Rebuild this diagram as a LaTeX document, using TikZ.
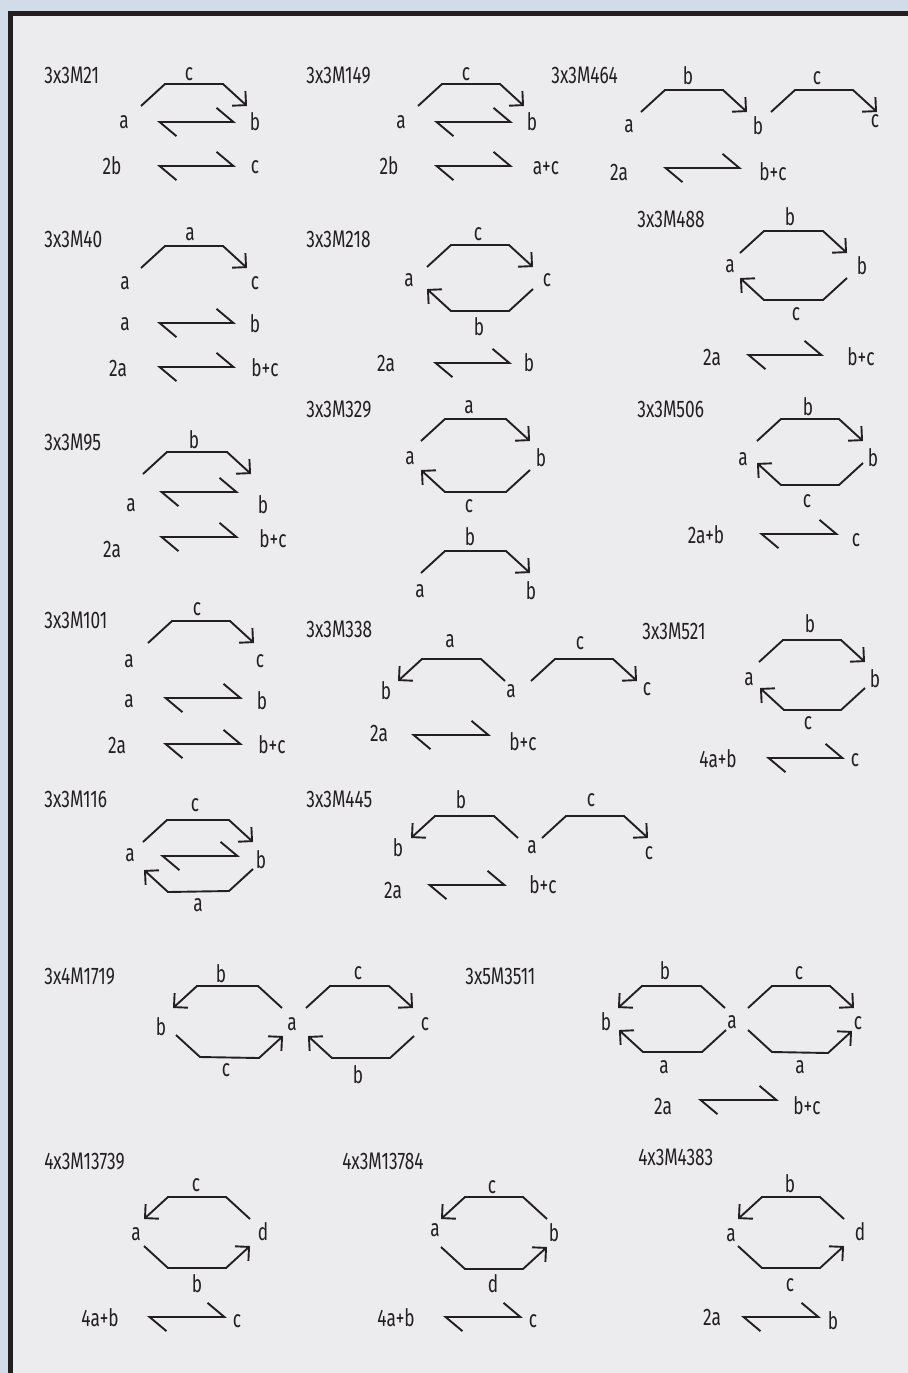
\documentclass[tikz,border=0pt]{standalone}
\usepackage{fontspec}
\setmainfont{Fira Sans}[FakeStretch=0.72]
\usepackage{tikz}
\usetikzlibrary{arrows.meta,
calc}
\definecolor{outerbg}{HTML}{D1DCE8}
\definecolor{panelbg}{HTML}{ECECEE}
\definecolor{framec}{HTML}{231F20}
\definecolor{ink}{HTML}{231F20}

\tikzset{
	hop/.style 2 args={to path={-- ++(#1,#2) -- ($(\tikztotarget)+(-1*#1,#2)$) -- (\tikztotarget)}},
	over/.style={hop={24}{-22}},
	overl/.style={hop={-24}{-22}},
	under/.style={hop={24}{22}},
	underl/.style={hop={-24}{22}}
}

\begin{document}
\begin{tikzpicture}[
	x=0.5pt, y=-0.5pt,
	font=\fontsize{12}{14}\selectfont,
	title/.style={anchor=mid west, inner sep=0pt, text=ink},
	lbl/.style={anchor=mid, inner sep=0pt, text=ink},
	conn/.style={draw=ink, line width=0.95pt, -{Straight Barb[angle=90:7pt]}},
	eqm/.style={draw=ink, line width=0.95pt,
		{Straight Barb[harpoon, angle=80:11pt]}-{Straight Barb[harpoon, angle=80:11pt]}}
	]
	\useasboundingbox (0,0) rectangle (908,1373);
	\fill[outerbg] (0,0) rectangle (908,1373);
	\fill[panelbg] (8,11) rectangle (908,1373);
	\fill[framec] (8,11) rectangle (13,1373);
	\fill[framec] (8,11) rectangle (908,16);
	
	% 3x3M21
	\node[title] (t21) at (44,78) {3x3M21};
	\node[lbl] (c21) at (189,75) {c};
	\node[lbl] (a21) at (124,123) {a};
	\node[lbl] (b21) at (255,125) {b};
	\node[lbl] (r21) at (112,169) {2b};
	\node[lbl] (p21) at (255,168) {c};
	\coordinate (s21) at (141,106); \coordinate (e21) at (247,106);
	\coordinate (l21) at (157,122); \coordinate (m21) at (236,122);
	\coordinate (n21) at (157,166); \coordinate (o21) at (236,166);
	\draw[conn, over] (s21) to (e21);
	\draw[eqm] (l21) -- (m21);
	\draw[eqm] (n21) -- (o21);
	
	% 3x3M149
	\node[title] (t149) at (306,78) {3x3M149};
	\node[lbl] (c149) at (466,75) {c};
	\node[lbl] (a149) at (401,123) {a};
	\node[lbl] (b149) at (532,125) {b};
	\node[lbl] (r149) at (389,169) {2b};
	\node[lbl] (p149) at (546,169) {a+c};
	\coordinate (s149) at (418,106); \coordinate (e149) at (524,106);
	\coordinate (l149) at (434,122); \coordinate (m149) at (513,122);
	\coordinate (n149) at (434,166); \coordinate (o149) at (513,166);
	\draw[conn, over] (s149) to (e149);
	\draw[eqm] (l149) -- (m149);
	\draw[eqm] (n149) -- (o149);
	
	% 3x3M464
	\node[title] (t464) at (551,78) {3x3M464};
	\node[lbl] (b464) at (688,79) {b};
	\node[lbl] (a464) at (629,127) {a};
	\node[lbl] (bb464) at (758,129) {b};
	\node[lbl] (c464) at (817,79) {c};
	\node[lbl] (cc464) at (875,122) {c};
	\node[lbl] (r464) at (619,175) {2a};
	\node[lbl] (p464) at (773,175) {b+c};
	\coordinate (s464) at (641,112); \coordinate (e464) at (747,112);
	\coordinate (u464) at (771,112); \coordinate (v464) at (877,112);
	\coordinate (l464) at (663,168); \coordinate (m464) at (742,168);
	\draw[conn, over] (s464) to (e464);
	\draw[conn, over] (u464) to (v464);
	\draw[eqm] (l464) -- (m464);
	
	% 3x3M40
	\node[title] (t40) at (44,242) {3x3M40};
	\node[lbl] (a40) at (190,235) {a};
	\node[lbl] (aa40) at (125,284) {a};
	\node[lbl] (c40) at (255,284) {c};
	\node[lbl] (r40) at (125,325) {a};
	\node[lbl] (p40) at (255,327) {b};
	\node[lbl] (rr40) at (118,371) {2a};
	\node[lbl] (pp40) at (265,371) {b+c};
	\coordinate (s40) at (141,268); \coordinate (e40) at (247,268);
	\coordinate (l40) at (157,323); \coordinate (m40) at (236,323);
	\coordinate (n40) at (157,367); \coordinate (o40) at (236,367);
	\draw[conn, over] (s40) to (e40);
	\draw[eqm] (l40) -- (m40);
	\draw[eqm] (n40) -- (o40);
	
	% 3x3M218
	\node[title] (t218) at (306,242) {3x3M218};
	\node[lbl] (c218) at (478,235) {c};
	\node[lbl] (a218) at (409,281) {a};
	\node[lbl] (cc218) at (547,281) {c};
	\node[lbl] (b218) at (479,330) {b};
	\node[lbl] (r218) at (386,366) {2a};
	\node[lbl] (p218) at (529,366) {b};
	\coordinate (s218) at (427,267); \coordinate (e218) at (533,267);
	\coordinate (u218) at (533,289); \coordinate (v218) at (427,289);
	\coordinate (l218) at (433,363); \coordinate (m218) at (512,363);
	\draw[conn, over] (s218) to (e218);
	\draw[conn, underl] (u218) to (v218);
	\draw[eqm] (l218) -- (m218);
	
	% 3x3M488
	\node[title] (t488) at (637,222) {3x3M488};
	\node[lbl] (b488) at (790,220) {b};
	\node[lbl] (a488) at (730,267) {a};
	\node[lbl] (bb488) at (862,269) {b};
	\node[lbl] (c488) at (796,315) {c};
	\node[lbl] (r488) at (712,360) {2a};
	\node[lbl] (p488) at (861,360) {b+c};
	\coordinate (s488) at (740,253); \coordinate (e488) at (847,253);
	\coordinate (u488) at (847,278); \coordinate (v488) at (740,278);
	\coordinate (l488) at (746,355); \coordinate (m488) at (824,355);
	\draw[conn, over] (s488) to (e488);
	\draw[conn, underl] (u488) to (v488);
	\draw[eqm] (l488) -- (m488);
	
	% 3x3M95
	\node[title] (t95) at (44,445) {3x3M95};
	\node[lbl] (b95) at (194,443) {b};
	\node[lbl] (a95) at (131,506) {a};
	\node[lbl] (bb95) at (263,508) {b};
	\node[lbl] (r95) at (112,552) {2a};
	\node[lbl] (p95) at (273,542) {b+c};
	\coordinate (s95) at (143,474); \coordinate (e95) at (251,474);
	\coordinate (l95) at (159,492); \coordinate (m95) at (239,492);
	\coordinate (n95) at (159,537); \coordinate (o95) at (239,537);
	\draw[conn, over] (s95) to (e95);
	\draw[eqm] (l95) -- (m95);
	\draw[eqm] (n95) -- (o95);
	
	% 3x3M329
	\node[title] (t329) at (306,412) {3x3M329};
	\node[lbl] (a329) at (469,408) {a};
	\node[lbl] (aa329) at (410,459) {a};
	\node[lbl] (b329) at (541,461) {b};
	\node[lbl] (c329) at (469,507) {c};
	\node[lbl] (bb329) at (470,540) {b};
	\node[lbl] (r329) at (420,592) {a};
	\node[lbl] (p329) at (531,594) {b};
	\coordinate (s329) at (421,441); \coordinate (e329) at (530,441);
	\coordinate (u329) at (530,470); \coordinate (v329) at (421,470);
	\coordinate (w329) at (421,573); \coordinate (z329) at (530,573);
	\draw[conn, over] (s329) to (e329);
	\draw[conn, underl] (u329) to (v329);
	\draw[conn, over] (w329) to (z329);
	
	% 3x3M506
	\node[title] (t506) at (637,412) {3x3M506};
	\node[lbl] (b506) at (808,410) {b};
	\node[lbl] (a506) at (743,460) {a};
	\node[lbl] (bb506) at (873,461) {b};
	\node[lbl] (c506) at (807,502) {c};
	\node[lbl] (r506) at (706,538) {2a+b};
	\node[lbl] (p506) at (856,541) {c};
	\coordinate (s506) at (757,441); \coordinate (e506) at (863,441);
	\coordinate (u506) at (863,463); \coordinate (v506) at (757,463);
	\coordinate (l506) at (759,534); \coordinate (m506) at (839,534);
	\draw[conn, over] (s506) to (e506);
	\draw[conn, underl] (u506) to (v506);
	\draw[eqm] (l506) -- (m506);
	
	% 3x3M101
	\node[title] (t101) at (44,623) {3x3M101};
	\node[lbl] (c101) at (197,610) {c};
	\node[lbl] (a101) at (129,662) {a};
	\node[lbl] (cc101) at (260,662) {c};
	\node[lbl] (r101) at (129,702) {a};
	\node[lbl] (p101) at (262,704) {b};
	\node[lbl] (rr101) at (117,748) {2a};
	\node[lbl] (pp101) at (272,748) {b+c};
	\coordinate (s101) at (148,643); \coordinate (e101) at (254,643);
	\coordinate (l101) at (163,698); \coordinate (m101) at (243,698);
	\coordinate (n101) at (163,744); \coordinate (o101) at (243,744);
	\draw[conn, over] (s101) to (e101);
	\draw[eqm] (l101) -- (m101);
	\draw[eqm] (n101) -- (o101);
	
	% 3x3M338
	\node[title] (t338) at (306,632) {3x3M338};
	\node[lbl] (a338) at (450,642) {a};
	\node[lbl] (b338) at (386,694) {b};
	\node[lbl] (aa338) at (511,692) {a};
	\node[lbl] (c338) at (580,644) {c};
	\node[lbl] (cc338) at (647,690) {c};
	\node[lbl] (r338) at (379,736) {2a};
	\node[lbl] (p338) at (523,745) {b+c};
	\coordinate (s338) at (505,681); \coordinate (e338) at (398,681);
	\coordinate (u338) at (531,681); \coordinate (v338) at (637,681);
	\coordinate (l338) at (411,735); \coordinate (m338) at (491,735);
	\draw[conn, overl] (s338) to (e338);
	\draw[conn, over] (u338) to (v338);
	\draw[eqm] (l338) -- (m338);
	
	% 3x3M521
	\node[title] (t521) at (642,634) {3x3M521};
	\node[lbl] (b521) at (810,627) {b};
	\node[lbl] (a521) at (749,680) {a};
	\node[lbl] (bb521) at (875,682) {b};
	\node[lbl] (c521) at (808,724) {c};
	\node[lbl] (r521) at (718,762) {4a+b};
	\node[lbl] (p521) at (855,761) {c};
	\coordinate (s521) at (759,662); \coordinate (e521) at (865,662);
	\coordinate (u521) at (865,688); \coordinate (v521) at (760,688);
	\coordinate (l521) at (766,758); \coordinate (m521) at (845,758);
	\draw[conn, over] (s521) to (e521);
	\draw[conn, underl] (u521) to (v521);
	\draw[eqm] (l521) -- (m521);
	
	% 3x3M116
	\node[title] (t116) at (44,802) {3x3M116};
	\node[lbl] (c116) at (195,806) {c};
	\node[lbl] (a116) at (130,856) {a};
	\node[lbl] (b116) at (261,863) {b};
	\node[lbl] (aa116) at (198,906) {a};
	\coordinate (s116) at (143,842); \coordinate (e116) at (253,842);
	\coordinate (u116) at (253,869); \coordinate (v116) at (144,870);
	\coordinate (l116) at (160,856); \coordinate (m116) at (240,856);
	\draw[conn, over] (s116) to (e116);
	\draw[conn, underl] (u116) to (v116);
	\draw[eqm] (l116) -- (m116);
	
	% 3x3M445
	\node[title] (t445) at (306,802) {3x3M445};
	\node[lbl] (b445) at (461,803) {b};
	\node[lbl] (bb445) at (398,851) {b};
	\node[lbl] (a445) at (532,848) {a};
	\node[lbl] (c445) at (591,801) {c};
	\node[lbl] (cc445) at (649,854) {c};
	\node[lbl] (r445) at (393,893) {2a};
	\node[lbl] (p445) at (543,888) {b+c};
	\coordinate (s445) at (518,838); \coordinate (e445) at (411,838);
	\coordinate (u445) at (542,838); \coordinate (v445) at (648,838);
	\coordinate (l445) at (427,885); \coordinate (m445) at (507,885);
	\draw[conn, overl] (s445) to (e445);
	\draw[conn, over] (u445) to (v445);
	\draw[eqm] (l445) -- (m445);
	
	% 3x4M1719
	\node[title] (t1719) at (44,979) {3x4M1719};
	\node[lbl] (b1719) at (221,977) {b};
	\node[lbl] (bb1719) at (161,1030) {b};
	\node[lbl] (a1719) at (292,1025) {a};
	\node[lbl] (c1719) at (226,1071) {c};
	\node[lbl] (cc1719) at (358,974) {c};
	\node[lbl] (ccc1719) at (425,1025) {c};
	\node[lbl] (bbb1719) at (358,1078) {b};
	\coordinate (s1719) at (282,1008); \coordinate (e1719) at (173,1008);
	\coordinate (u1719) at (176,1035); \coordinate (v1719) at (283,1036);
	\coordinate (w1719) at (306,1008); \coordinate (z1719) at (413,1008);
	\coordinate (x1719) at (414,1036); \coordinate (y1719) at (308,1036);
	\draw[conn, overl] (s1719) to (e1719);
	\draw[conn, under] (u1719) to (v1719);
	\draw[conn, over] (w1719) to (z1719);
	\draw[conn, underl] (x1719) to (y1719);
	
	% 3x5M3511
	\node[title] (t3511) at (465,979) {3x5M3511};
	\node[lbl] (b3511) at (665,974) {b};
	\node[lbl] (bb3511) at (606,1025) {b};
	\node[lbl] (a3511) at (732,1023) {a};
	\node[lbl] (aa3511) at (664,1068) {a};
	\node[lbl] (c3511) at (799,974) {c};
	\node[lbl] (cc3511) at (858,1024) {c};
	\node[lbl] (aaa3511) at (800,1068) {a};
	\node[lbl] (r3511) at (663,1109) {2a};
	\node[lbl] (p3511) at (807,1109) {b+c};
	\coordinate (s3511) at (725,1008); \coordinate (e3511) at (618,1008);
	\coordinate (u3511) at (726,1030); \coordinate (v3511) at (619,1030);
	\coordinate (w3511) at (748,1008); \coordinate (z3511) at (854,1008);
	\coordinate (x3511) at (748,1030); \coordinate (y3511) at (852,1031);
	\coordinate (l3511) at (698,1100); \coordinate (m3511) at (779,1100);
	\draw[conn, overl] (s3511) to (e3511);
	\draw[conn, underl] (u3511) to (v3511);
	\draw[conn, over] (w3511) to (z3511);
	\draw[conn, under] (x3511) to (y3511);
	\draw[eqm] (l3511) -- (m3511);
	
	% 4x3M13739
	\node[title] (t13739) at (44,1164) {4x3M13739};
	\node[lbl] (c13739) at (196,1186) {c};
	\node[lbl] (a13739) at (136,1235) {a};
	\node[lbl] (d13739) at (263,1235) {d};
	\node[lbl] (b13739) at (197,1287) {b};
	\node[lbl] (r13739) at (100,1321) {4a+b};
	\node[lbl] (p13739) at (237,1322) {c};
	\coordinate (s13739) at (250,1219); \coordinate (e13739) at (144,1219);
	\coordinate (u13739) at (144,1246); \coordinate (v13739) at (250,1246);
	\coordinate (l13739) at (147,1317); \coordinate (m13739) at (227,1317);
	\draw[conn, overl] (s13739) to (e13739);
	\draw[conn, under] (u13739) to (v13739);
	\draw[eqm] (l13739) -- (m13739);
	
	% 4x3M13784
	\node[title] (t13784) at (342,1164) {4x3M13784};
	\node[lbl] (c13784) at (492,1188) {c};
	\node[lbl] (a13784) at (435,1231) {a};
	\node[lbl] (b13784) at (554,1236) {b};
	\node[lbl] (d13784) at (493,1287) {d};
	\node[lbl] (r13784) at (396,1321) {4a+b};
	\node[lbl] (p13784) at (533,1322) {c};
	\coordinate (s13784) at (547,1219); \coordinate (e13784) at (441,1219);
	\coordinate (u13784) at (441,1247); \coordinate (v13784) at (547,1247);
	\coordinate (l13784) at (443,1317); \coordinate (m13784) at (523,1317);
	\draw[conn, overl] (s13784) to (e13784);
	\draw[conn, under] (u13784) to (v13784);
	\draw[eqm] (l13784) -- (m13784);
	
	% 4x3M4383
	\node[title] (t4383) at (638,1160) {4x3M4383};
	\node[lbl] (b4383) at (790,1187) {b};
	\node[lbl] (a4383) at (731,1236) {a};
	\node[lbl] (d4383) at (860,1235) {d};
	\node[lbl] (c4383) at (790,1286) {c};
	\node[lbl] (r4383) at (712,1320) {2a};
	\node[lbl] (p4383) at (833,1324) {b};
	\coordinate (s4383) at (844,1219); \coordinate (e4383) at (738,1219);
	\coordinate (u4383) at (738,1246); \coordinate (v4383) at (844,1246);
	\coordinate (l4383) at (741,1317); \coordinate (m4383) at (821,1317);
	\draw[conn, overl] (s4383) to (e4383);
	\draw[conn, under] (u4383) to (v4383);
	\draw[eqm] (l4383) -- (m4383);
\end{tikzpicture}
\end{document}
